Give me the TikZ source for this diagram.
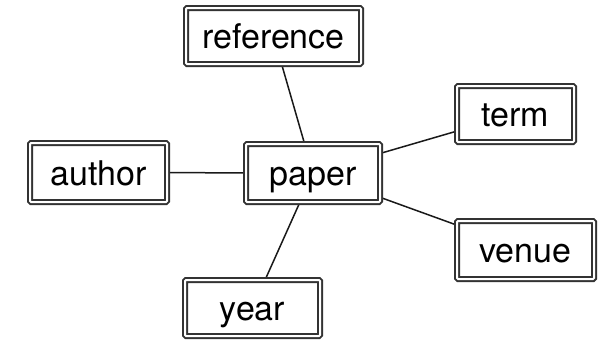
\documentclass[tikz,border=0pt]{standalone}
\usepackage{fontspec}
\setmainfont{TeX Gyre Heros}
\usetikzlibrary{backgrounds}
\begin{document}
\begin{tikzpicture}[x=1pt,y=-1pt,
  entity/.style={draw=black!80, line width=2pt, double=white, double distance=2pt,
    rounded corners=1pt, fill=white, inner sep=0pt, text height=29pt, text depth=4pt,
    font=\fontsize{34}{40}\selectfont},
  link/.style={draw=black!90, line width=1.5pt}]
  \useasboundingbox (0,0) rectangle (611,340);
  % entity boxes (outer size minus 6pt for the double border)
  \node[entity, minimum width=175pt, minimum height=56pt] (reference) at (273.5,36) {reference};
  \node[entity, minimum width=134pt, minimum height=58pt] (paper) at (313,173) {paper};
  \node[entity, minimum width=137pt, minimum height=59pt] (author) at (98.5,172.5) {author};
  \node[entity, minimum width=117pt, minimum height=56pt] (term) at (515.5,114) {term};
  \node[entity, minimum width=137pt, minimum height=58pt] (venue) at (525.5,250) {venue};
  \node[entity, minimum width=135pt, minimum height=56pt] (year) at (252.5,308) {year};
  % relations from the central paper entity
  \begin{pgfonlayer}{background}
    \draw[link] (paper.center) -- (reference.center);
    \draw[link] (paper.center) -- (author.center);
    \draw[link] (paper.center) -- (term.center);
    \draw[link] (paper.center) -- (venue.center);
    \draw[link] (paper.center) -- (year.center);
  \end{pgfonlayer}
\end{tikzpicture}
\end{document}
